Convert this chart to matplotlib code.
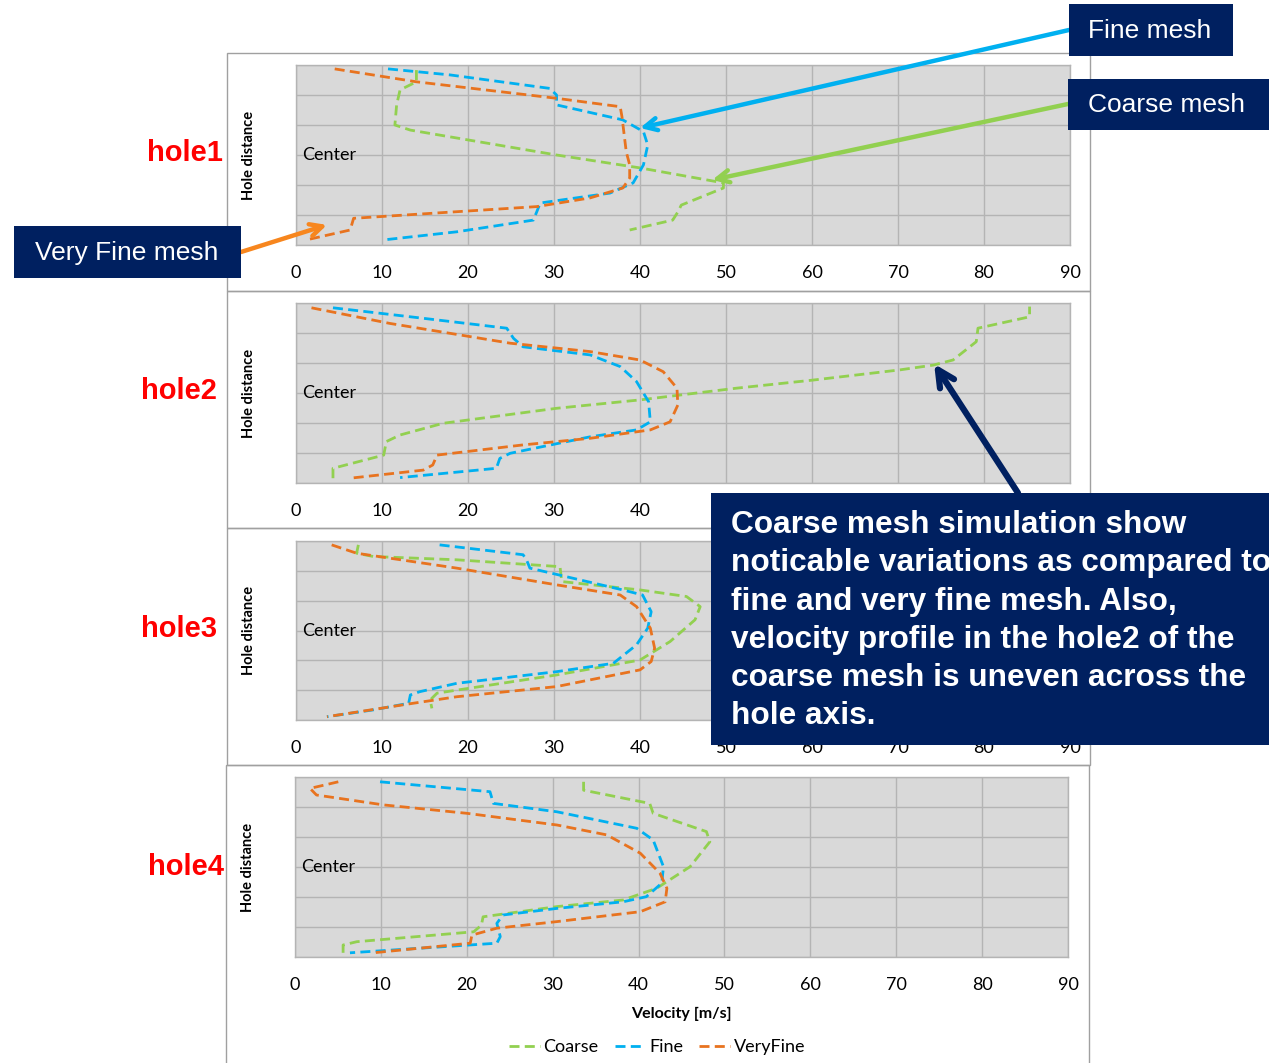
import matplotlib
matplotlib.use("Agg")
import matplotlib.pyplot as plt
from matplotlib.patches import Rectangle

plt.rcParams['font.family'] = ['Lato', 'DejaVu Sans']

W, H = 1269, 1063

# velocity [m/s], hole distance (0 bottom .. 6 top, centre at 3)
hole1_coarse = [(14.0, 5.83), (14.0, 5.44), (12.1, 5.17), (11.7, 4.67), (11.5, 4.0), (13.3, 3.83),
                (30.3, 3.0), (40.0, 2.57), (49.7, 2.07), (49.7, 1.9), (44.8, 1.33), (44.4, 1.1),
                (43.8, 0.83), (38.8, 0.5)]
hole1_fine = [(10.7, 5.87), (17.9, 5.67), (29.5, 5.22), (30.3, 5.0), (30.3, 4.67), (38.0, 4.17),
              (40.4, 3.78), (40.9, 3.33), (40.4, 2.67), (39.2, 2.07), (36.5, 1.73), (28.4, 1.40),
              (28.0, 1.11), (27.6, 0.83), (18.7, 0.44), (10.2, 0.17)]
hole1_vfine = [(4.5, 5.87), (14.0, 5.44), (30.3, 4.89), (37.7, 4.61), (37.9, 4.28), (38.4, 3.11),
               (38.8, 2.67), (38.8, 2.23), (38.0, 1.9), (34.2, 1.57), (28.0, 1.28), (18.7, 1.11),
               (6.7, 0.89), (6.3, 0.5), (1.2, 0.17)]

hole2_coarse = [(4.3, 0.16), (4.3, 0.49), (10.2, 0.93), (10.5, 1.38), (12.1, 1.6), (17.1, 1.99),
                (30.3, 2.49), (40.0, 2.77), (51.2, 3.16), (60.1, 3.43), (70.2, 3.77), (74.1, 3.93),
                (76.4, 4.1), (79.1, 4.71), (79.3, 5.16), (85.3, 5.54), (85.3, 5.88)]
hole2_fine = [(4.3, 5.84), (14.8, 5.49), (24.5, 5.16), (25.3, 4.82), (26.4, 4.54), (34.2, 4.27),
              (37.7, 3.88), (39.6, 3.38), (41.0, 2.71), (41.2, 2.04), (39.6, 1.77), (34.2, 1.54),
              (24.9, 0.99), (23.7, 0.82), (23.3, 0.49), (12.1, 0.18)]
hole2_vfine = [(1.8, 5.84), (10.9, 5.32), (24.9, 4.66), (34.2, 4.38), (40.0, 4.1), (42.7, 3.71),
               (44.3, 3.16), (44.4, 2.6), (43.5, 2.04), (41.2, 1.77), (34.2, 1.49), (26.4, 1.27),
               (16.4, 0.93), (15.9, 0.6), (14.8, 0.43), (6.3, 0.16)]

hole3_coarse = [(7.25, 5.87), (7.05, 5.59), (9.0, 5.48), (18.7, 5.37), (30.7, 5.14), (30.9, 4.64),
                (40.0, 4.36), (45.4, 4.14), (47.0, 3.8), (46.4, 3.36), (43.5, 2.63), (40.0, 2.01),
                (30.3, 1.51), (16.4, 0.9), (15.6, 0.67), (15.8, 0.39)]
hole3_fine = [(16.7, 5.87), (26.4, 5.54), (26.8, 5.37), (27.2, 5.09), (38.0, 4.36), (40.3, 4.19),
              (41.3, 3.63), (40.9, 3.08), (39.6, 2.52), (36.9, 1.9), (30.3, 1.62), (18.7, 1.23),
              (14.4, 0.95), (13.3, 0.84), (13.1, 0.56), (9.0, 0.34), (3.6, 0.11)]
hole3_vfine = [(4.15, 5.87), (7.05, 5.59), (18.7, 5.09), (30.3, 4.53), (37.7, 4.19), (39.6, 3.8),
               (41.2, 3.08), (41.7, 2.41), (41.3, 1.96), (40.0, 1.68), (30.3, 1.12), (18.7, 0.78),
               (13.6, 0.56), (3.6, 0.11)]

hole4_coarse = [(33.6, 5.84), (33.6, 5.56), (41.3, 5.12), (41.7, 4.79), (47.9, 4.18), (48.3, 3.84),
                (46.0, 3.01), (42.1, 2.29), (38.2, 1.9), (30.5, 1.68), (21.9, 1.34), (21.7, 1.06),
                (20.8, 0.84), (7.2, 0.51), (5.6, 0.4), (5.6, 0.14)]
hole4_fine = [(9.9, 5.84), (22.7, 5.51), (23.1, 5.12), (30.5, 4.84), (39.8, 4.29), (41.7, 3.9),
              (42.9, 3.01), (42.7, 2.46), (40.9, 2.01), (38.2, 1.84), (30.5, 1.62), (24.2, 1.4),
              (23.5, 1.12), (23.9, 0.68), (23.5, 0.46), (6.4, 0.14)]
hole4_vfine = [(5.04, 5.84), (1.75, 5.62), (2.5, 5.4), (10.3, 5.07), (20.0, 4.79), (30.5, 4.4),
               (36.3, 4.07), (40.2, 3.46), (42.5, 2.79), (43.3, 2.29), (43.1, 1.84), (40.2, 1.51),
               (30.5, 1.18), (23.5, 0.96), (20.6, 0.73), (20.4, 0.46), (9.1, 0.14)]

holes = ['hole1', 'hole2', 'hole3', 'hole4']
profiles = [
    (hole1_coarse, hole1_fine, hole1_vfine),
    (hole2_coarse, hole2_fine, hole2_vfine),
    (hole3_coarse, hole3_fine, hole3_vfine),
    (hole4_coarse, hole4_fine, hole4_vfine),
]
series = ['Coarse', 'Fine', 'VeryFine']
colors = ['#92d050', '#00b0f0', '#e8731f']
xticks = list(range(0, 91, 10))

NAVY = '#002060'

fig = plt.figure(figsize=(W / 100, H / 100), dpi=100)


def px_axes(left, top, right, bottom, **kw):
    return fig.add_axes([left / W, 1 - bottom / H, (right - left) / W, (bottom - top) / H], **kw)


# plot areas (pixels) and outer chart frames
areas = [(296, 65, 1070, 245), (296, 303, 1070, 483), (296, 541, 1070, 720), (295, 777, 1068, 957)]
frames = [(227, 52.7, 1090, 290.5), (227, 290.5, 1090, 528.3), (227, 528.3, 1090, 764.5),
          (226, 764.5, 1089, 1070)]
hole_label_pos = [(185, 153), (179, 391), (179, 629), (186, 867)]

axes = []
for i, (area, prof) in enumerate(zip(areas, profiles)):
    ax = px_axes(*area)
    ax.set_facecolor('#d9d9d9')
    for data, name, c in zip(prof, series, colors):
        v = [p[0] for p in data]
        y = [p[1] for p in data]
        ax.plot(v, y, color=c, lw=2.0, linestyle=(0, (3.6, 1.9)), label=name,
                solid_joinstyle='round')
    ax.set_xlim(0, 90)
    ax.set_ylim(0, 6)
    ax.set_xticks(xticks)
    ax.set_yticks(range(7))
    ax.set_yticklabels([])
    ax.grid(True, color='#b4b4b4', lw=1.0)
    ax.set_axisbelow(True)
    ax.tick_params(length=0, labelsize=13, pad=14.5)
    for s in ax.spines.values():
        s.set_color('#b4b4b4')
        s.set_linewidth(1.0)
    ax.text(0.7, 3, 'Center', fontsize=13, va='center', ha='left')
    ax.text(-47 / 774, 0.5, 'Hole distance', transform=ax.transAxes, rotation=90,
            fontsize=10.5, fontweight='bold', ha='center', va='center')
    axes.append(ax)

# the right half of the hole2 velocity scale sits under the note box
for lab, t in zip(axes[1].get_xticklabels(), xticks):
    if t >= 50:
        lab.set_visible(False)

axes[3].set_xlabel('Velocity [m/s]', fontsize=11.5, fontweight='bold', labelpad=10)

handles, labels = axes[3].get_legend_handles_labels()
fig.legend(handles, labels, loc='center', bbox_to_anchor=(657 / W, 1 - 1047 / H), ncol=3,
           frameon=False, fontsize=13, handlelength=1.7, handletextpad=0.2, columnspacing=0.9)

# overlay in pixel coordinates for frames, callouts and arrows
ov = fig.add_axes([0, 0, 1, 1], zorder=10)
ov.set_xlim(0, W)
ov.set_ylim(H, 0)
ov.axis('off')

for (l, t, r, b) in frames:
    ov.add_patch(Rectangle((l, t), r - l, b - t, fill=False, edgecolor='#a0a0a0', lw=1.0, zorder=1))

for name, (x, y) in zip(holes, hole_label_pos):
    ov.text(x, y, name, color='#ff0000', fontsize=21, fontweight='bold',
            family='Liberation Sans', ha='center', va='center')

# arrows from the callout boxes to the curves
arrows = [
    (axes[0], (40.0, 3.9), (1069, 30), '#00b0f0', 3.2, 22),
    (axes[0], (48.4, 2.17), (1068, 104), '#92d050', 3.2, 22),
    (axes[0], (3.6, 0.67), (241, 252), '#f7861e', 3.2, 22),
    (axes[1], (74.2, 3.97), (1018, 493), NAVY, 4.5, 30),
]
for ax, tip, tail, c, lw, ms in arrows:
    ov.annotate('', xy=tip, xycoords=ax.transData, xytext=tail, textcoords='data',
                arrowprops=dict(arrowstyle='->', color=c, lw=lw, shrinkA=0, shrinkB=0,
                                mutation_scale=ms), zorder=2)

boxes = [
    ((14, 226, 241, 277.5), 'Very Fine mesh', (127, 253)),
    ((1069, 4, 1233, 55.5), 'Fine mesh', (1150, 31)),
    ((1068, 78.5, 1269, 130), 'Coarse mesh', (1167, 105)),
]
for (l, t, r, b), txt, (tx, ty) in boxes:
    ov.add_patch(Rectangle((l, t), r - l, b - t, facecolor=NAVY, edgecolor='none', zorder=3))
    ov.text(tx, ty, txt, color='white', fontsize=19, family='Liberation Sans',
            ha='center', va='center', zorder=4)

ov.add_patch(Rectangle((711, 493), W - 711 + 5, 745 - 493, facecolor=NAVY, edgecolor='none', zorder=3))
note = ['Coarse mesh simulation show',
        'noticable variations as compared to',
        'fine and very fine mesh. Also,',
        'velocity profile in the hole2 of the',
        'coarse mesh is uneven across the',
        'hole axis.']
for k, line in enumerate(note):
    ov.text(731, 525 + k * 38.3, line, color='white', fontsize=22.8, fontweight='bold',
            family='Liberation Sans', ha='left', va='center', zorder=4)

fig.savefig('out.png', dpi=100)
